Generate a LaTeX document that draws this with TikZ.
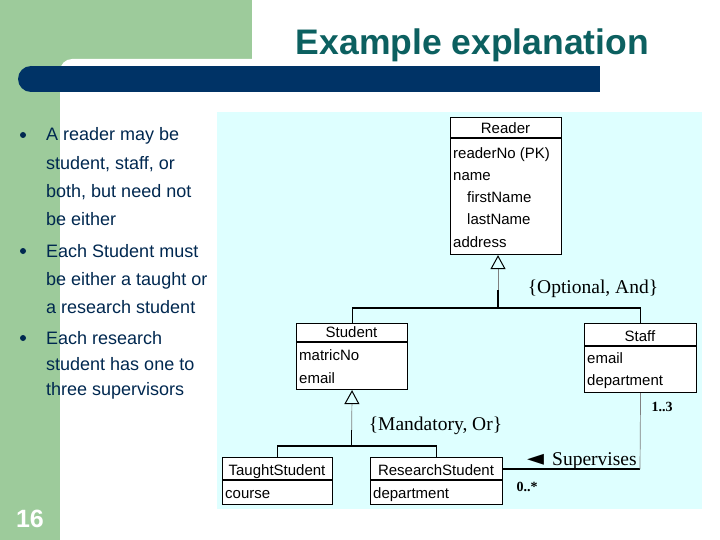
\documentclass[tikz,border=0pt]{standalone}
\usepackage{fontspec}
\setmainfont{Liberation Sans}
\newfontfamily\seriffont{Liberation Serif}
\newfontfamily\symfont{DejaVu Sans}
\usetikzlibrary{arrows.meta}
\definecolor{greenbg}{RGB}{157,203,155}
\definecolor{navybar}{RGB}{0,51,102}
\definecolor{titlecol}{RGB}{12,96,96}
\definecolor{bullettext}{RGB}{0,40,80}
\definecolor{diagbg}{RGB}{222,255,255}
\begin{document}
\begin{tikzpicture}[x=1pt,y=-1pt,
 classbox/.style={draw=black, line width=1.1pt, fill=white, inner sep=0pt, anchor=north west},
 classtitle/.style={font=\fontsize{15}{18}\selectfont, inner sep=0pt, anchor=base},
 attr/.style={font=\fontsize{15}{18}\selectfont, inner sep=0pt, anchor=base west},
 btext/.style={font=\fontsize{18}{22}\selectfont, text=bullettext, inner sep=0pt, anchor=base west},
 bdot/.style={circle, fill=bullettext, minimum size=6pt, inner sep=0pt},
 conn/.style={line width=1.1pt, black},
 faint/.style={line width=0.7pt, gray},
 gentip/.style={-{Triangle[open, color=black, line width=1pt, length=14pt, width=15pt]}},
 constraint/.style={font=\seriffont\fontsize{19.5}{22}\selectfont, inner sep=0pt},
 mult/.style={font=\seriffont\bfseries\fontsize{14}{16}\selectfont, inner sep=0pt},
]
\useasboundingbox (0,0) rectangle (720,540);
% background
\fill[white] (0,0) rectangle (720,540);
\fill[greenbg] (0,0) rectangle (252,75);
\fill[greenbg] (0,0) rectangle (60,540);
\fill[white, rounded corners=12pt] (60,59) rectangle (400,200);
\fill[navybar] (31,79) circle[radius=13];
\fill[navybar] (31,66) rectangle (600,92);
\node[font=\bfseries\fontsize{35.5}{40}\selectfont, text=titlecol, anchor=base, inner sep=0pt] (title) at (472.5,55) {Example explanation};
\node[font=\bfseries\fontsize{25}{28}\selectfont, text=white, anchor=base, inner sep=0pt] (pagenum) at (30,527) {16};

% bullets
\node[bdot] (b1) at (23,135) {};
\node[bdot] (b2) at (23,251) {};
\node[bdot] (b3) at (23,338) {};
\node[btext] (t1) at (46,140.5) {A reader may be};
\node[btext] (t2) at (46,169.5) {student, staff, or};
\node[btext] (t3) at (46,197.5) {both, but need not};
\node[btext] (t4) at (46,225.5) {be either};
\node[btext] (t5) at (46,257.5) {Each Student must};
\node[btext] (t6) at (46,285.5) {be either a taught or};
\node[btext] (t7) at (46,313.5) {a research student};
\node[btext] (t8) at (46,344.5) {Each research};
\node[btext] (t9) at (46,370.5) {student has one to};
\node[btext] (t10) at (46,395.5) {three supervisors};

% diagram background
\fill[diagbg] (217,112) rectangle (702,509);

% Reader
\node[classbox, minimum width=111pt, minimum height=137pt] (reader) at (450,117) {};
\draw[line width=1.1pt] (reader.north west |- 0,138) -- (reader.north east |- 0,138);
\node[classtitle] (readerT) at (505.5,133.5) {Reader};
\node[attr] (r1) at (453,158.5) {readerNo (PK)};
\node[attr] (r2) at (453,180.5) {name};
\node[attr] (r3) at (467,202.5) {firstName};
\node[attr] (r4) at (467,225) {lastName};
\node[attr] (r5) at (453,247.5) {address};

% Student
\node[classbox, minimum width=111pt, minimum height=66pt] (student) at (296,323) {};
\draw[line width=1.1pt] (student.north west |- 0,342) -- (student.north east |- 0,342);
\node[classtitle] (studentT) at (351.5,337.5) {Student};
\node[attr] (s1a) at (299,360.5) {matricNo};
\node[attr] (s2a) at (299,383.5) {email};

% Staff
\node[classbox, minimum width=112pt, minimum height=69pt] (staff) at (584,323) {};
\draw[line width=1.1pt] (staff.north west |- 0,346) -- (staff.north east |- 0,346);
\node[classtitle] (staffT) at (640,341.5) {Staff};
\node[attr] (st1) at (587,363.5) {email};
\node[attr] (st2) at (587,385.5) {department};

% TaughtStudent
\node[classbox, minimum width=110pt, minimum height=47pt] (taught) at (222,457) {};
\draw[line width=1.1pt] (taught.north west |- 0,480) -- (taught.north east |- 0,480);
\node[classtitle] (taughtT) at (277,475.5) {TaughtStudent};
\node[attr] (ta1) at (225,498.5) {course};

% ResearchStudent
\node[classbox, minimum width=132pt, minimum height=47pt] (research) at (370,457) {};
\draw[line width=1.1pt] (research.north west |- 0,480) -- (research.north east |- 0,480);
\node[classtitle] (researchT) at (436,475.5) {ResearchStudent};
\node[attr] (re1) at (373,498.5) {department};

% generalization Reader
\coordinate (j1) at (498,308);
\draw[faint, gentip] (j1) -- (j1 |- reader.south);
\draw[conn] (j1) -- ++(0,-18);
\draw[conn] (student.north) -- (student.north |- j1) -- (staff.north |- j1) -- (staff.north);
\node[constraint] (optand) at (593,289) {\{Optional, And\}};

% generalization Student
\coordinate (j2) at (351.5,446);
\draw[faint, gentip] (j2) -- (student.south);
\draw[conn] (j2) -- ++(0,-16);
\draw[conn] (taught.north) -- (taught.north |- j2) -- (research.north |- j2) -- (research.north);
\node[constraint] (mandor) at (435.5,426) {\{Mandatory, Or\}};

% Supervises association
\coordinate (sv) at (640,469);
\draw[conn] (research.east |- sv) -- (sv);
\draw[faint] (sv) -- (staff.south);
\node[font=\symfont\fontsize{22}{24}\selectfont, inner sep=0pt, anchor=base west] (suparrow) at (527,465) {◄};
\node[constraint, anchor=base west] (suplabel) at (552,465) {Supervises};
\node[mult] (m13) at (662,407) {1..3};
\node[mult] (m0s) at (527,487) {0..*};
\end{tikzpicture}
\end{document}
